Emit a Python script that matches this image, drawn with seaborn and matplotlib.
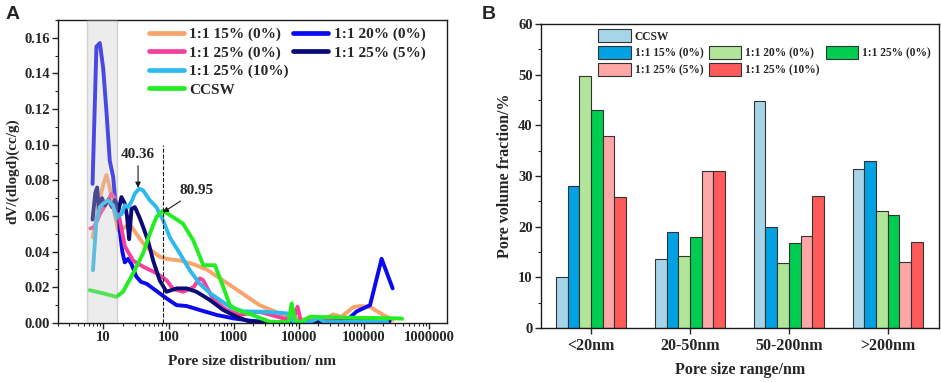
import numpy as np
import pandas as pd
import seaborn as sns
import matplotlib
matplotlib.use("Agg")
import matplotlib.pyplot as plt
from matplotlib.patches import Patch
from matplotlib.lines import Line2D
from matplotlib.ticker import LogLocator, MultipleLocator, NullFormatter

sns.set_theme(style="ticks")
plt.rcParams["font.family"] = ["Liberation Serif", "DejaVu Serif"]
plt.rcParams["font.weight"] = "bold"
plt.rcParams["axes.labelweight"] = "bold"

# ---- panel A data: pore size (nm) vs dV/dlogd ----
x_15 = [6.8, 7.5, 8.8, 10, 11.1, 12.5, 14.9, 16.8, 20, 24, 27, 32, 41, 48, 58, 74, 93, 150, 240, 385,
        990, 2500, 5800, 10500, 19000, 27000, 34000, 45000, 70000, 88000, 125000, 200000, 280000]
y_15 = [0.048, 0.055, 0.070, 0.078, 0.083, 0.076, 0.061, 0.052, 0.053, 0.055, 0.054, 0.050, 0.0446, 0.042, 0.040, 0.037,
        0.036, 0.035, 0.033, 0.030, 0.020, 0.010, 0.0045, 0.002, 0.0015, 0.003, 0.0048, 0.0035, 0.009, 0.0095,
        0.009, 0.0045, 0.0017]

x_20 = [6.8, 7.8, 8.8, 9.9, 11.1, 12.5, 14.1, 15.5, 16.5, 19.5, 21.3, 24, 27, 32, 38, 46, 65, 93, 133, 190,
        300, 550, 990, 1800, 3200, 5800, 10400, 19000, 22000, 25000, 43000, 61000, 78000, 125000, 188000, 278000]
y_20 = [0.078, 0.155, 0.157, 0.143, 0.119, 0.091, 0.082, 0.065, 0.062, 0.040, 0.034, 0.036, 0.033, 0.026, 0.023,
        0.022, 0.018, 0.0138, 0.010, 0.0095, 0.0073, 0.0045, 0.0026, 0.0013, 0.0006, 0.0004, 0.0005, 0.0005,
        0.0018, 0.0005, 0.0012, 0.003, 0.0065, 0.010, 0.036, 0.0194]

x_25_0 = [6.3, 7.3, 8.8, 11.1, 13.3, 14.9, 17.8, 21.3, 28.6, 41, 65, 93, 118, 168, 240, 303, 340, 490, 780,
          1250, 2500, 5800, 8300, 9600, 10800, 15000, 30000, 100000, 180000]
y_25_0 = [0.053, 0.054, 0.061, 0.067, 0.0725, 0.070, 0.058, 0.043, 0.035, 0.0315, 0.028, 0.024, 0.019, 0.0175,
          0.020, 0.025, 0.024, 0.013, 0.0073, 0.0045, 0.0063, 0.0026, 0.0020, 0.0091, 0.001, 0.001, 0.001,
          0.001, 0.001]

x_25_5 = [6.8, 7.5, 8.0, 8.5, 9.5, 10.5, 12, 13.5, 15, 17, 18.9, 21.3, 23, 24.8, 27, 30.3, 32.2, 36, 40.6,
          48.5, 58, 73, 93, 133, 189, 269, 431, 692, 1110, 1780, 3200, 10000, 50000, 250000]
y_25_5 = [0.058, 0.073, 0.076, 0.063, 0.070, 0.066, 0.069, 0.065, 0.069, 0.063, 0.0706, 0.067, 0.060, 0.047,
          0.064, 0.065, 0.063, 0.059, 0.054, 0.046, 0.035, 0.024, 0.0175, 0.0194, 0.0194, 0.0175, 0.0129,
          0.0073, 0.0035, 0.0007, 0.0003, 0.0005, 0.0008, 0.001]

x_25_10 = [6.9, 7.8, 8.8, 9.9, 11.8, 14, 15.8, 18.9, 21.3, 24, 27, 30.3, 35.4, 40.6, 51.6, 65, 82.5, 104.6,
           149, 212, 302, 431, 877, 1400, 2850, 6570, 8300, 15000, 20000, 25000, 230000]
y_25_10 = [0.0296, 0.0576, 0.065, 0.067, 0.0688, 0.066, 0.059, 0.061, 0.066, 0.065, 0.068, 0.0725, 0.0753,
           0.0744, 0.0688, 0.065, 0.0576, 0.048, 0.039, 0.0296, 0.022, 0.0168, 0.009, 0.0065, 0.0063, 0.0054,
           0.0007, 0.0005, 0.0028, 0.0005, 0.0007]

x_ccsw = [6.15, 9.9, 15.8, 20, 28.5, 40.6, 51.6, 65, 82.5, 117, 167, 239, 342, 516, 692, 877, 1110, 1780,
          3600, 7000, 7800, 8800, 10500, 14900, 25000, 55000, 320000, 390000]
y_ccsw = [0.0184, 0.0166, 0.0147, 0.0175, 0.0278, 0.039, 0.050, 0.0594, 0.063, 0.0594, 0.0557, 0.0464,
          0.0324, 0.0324, 0.0203, 0.010, 0.0075, 0.0050, 0.0007, 0.0005, 0.011, 0.0017, 0.0003, 0.0035, 0.0033,
          0.003, 0.0026, 0.0024]

a_series = [
    ("1:1 15% (0%)", x_15, y_15, "#F9A46A"),
    ("1:1 20% (0%)", x_20, y_20, "#0A0AF0"),
    ("1:1 25% (0%)", x_25_0, y_25_0, "#F5419B"),
    ("1:1 25% (5%)", x_25_5, y_25_5, "#0B0B78"),
    ("1:1 25% (10%)", x_25_10, y_25_10, "#2DB9F0"),
    ("CCSW", x_ccsw, y_ccsw, "#22EE22"),
]

# ---- panel B data: pore volume fraction (%) ----
ranges = ["<20nm", "20-50nm", "50-200nm", ">200nm"]
b_ccsw = [10.0, 13.6, 44.9, 31.4]
b_15 = [28.0, 19.0, 20.0, 33.0]
b_20 = [49.7, 14.3, 12.8, 23.2]
b_25_0 = [43.0, 18.0, 16.8, 22.3]
b_25_5 = [37.9, 31.0, 18.1, 13.1]
b_25_10 = [25.9, 31.1, 26.1, 17.0]
b_names = ["CCSW", "1:1 15% (0%)", "1:1 20% (0%)", "1:1 25% (0%)", "1:1 25% (5%)", "1:1 25% (10%)"]
b_colors = ["#A6D5EA", "#00A2E3", "#B0E59A", "#00CC50", "#FFA6A6", "#FF5A5A"]

fig = plt.figure(figsize=(9.41, 3.82), dpi=100)
axA = fig.add_axes([0.0616, 0.1545, 0.4134, 0.7935])
axB = fig.add_axes([0.575, 0.141, 0.423, 0.796])

# ---------- panel A ----------
for name, xs, ys, c in a_series:
    sns.lineplot(x=xs, y=ys, ax=axA, color=c, lw=2.8, sort=False, estimator=None, label=name)
axA.set_xscale("log")
axA.set_xlim(2, 1.9e6)
axA.set_ylim(0, 0.17)
axA.axvspan(5.6, 16.2, facecolor="#c8c8c8", alpha=0.33, edgecolor="#888888", lw=1.0, zorder=5)
axA.vlines(80.95, 0, 0.10, colors="k", linestyles="--", lw=0.8, zorder=6)

arrow = dict(arrowstyle="-|>", color="k", lw=0.8, mutation_scale=8, shrinkA=1, shrinkB=0)
axA.annotate("40.36", xy=(34, 0.0758), xytext=(34, 0.0945), ha="center", va="center",
             fontsize=11, fontweight="bold", arrowprops=arrow, zorder=7)
axA.annotate("80.95", xy=(82, 0.062), xytext=(272, 0.0743), ha="center", va="center",
             fontsize=11, fontweight="bold", arrowprops=arrow, zorder=7)

axA.set_xticks([10, 100, 1000, 10000, 100000, 1000000])
axA.set_xticklabels(["10", "100", "1000", "10000", "100000", "1000000"])
axA.xaxis.set_minor_locator(LogLocator(base=10, subs=np.arange(2, 10), numticks=20))
axA.xaxis.set_minor_formatter(NullFormatter())
axA.yaxis.set_major_locator(MultipleLocator(0.02))
axA.yaxis.set_minor_locator(MultipleLocator(0.01))
axA.set_yticklabels([f"{v:.2f}" for v in axA.get_yticks()])
axA.tick_params(which="major", direction="out", length=4, width=1, labelsize=10.5, pad=2)
axA.tick_params(which="minor", direction="out", length=2.2, width=0.8)
axA.set_xlabel("Pore size distribution/ nm", fontsize=11, labelpad=8)
axA.set_ylabel("dV/(dlogd)(cc/g)", fontsize=11, labelpad=3)
for s in axA.spines.values():
    s.set_linewidth(1.0)
    s.set_color("k")

# legend order so that column-major fill gives the reference rows
hA = {name: Line2D([0], [0], color=c, lw=3.4) for name, _, _, c in a_series}
blank = Line2D([0], [0], color="none")
axA.legend(handles=[hA["1:1 15% (0%)"], hA["1:1 25% (0%)"], hA["1:1 25% (10%)"], hA["CCSW"],
                    hA["1:1 20% (0%)"], hA["1:1 25% (5%)"], blank, blank],
           labels=["1:1 15% (0%)", "1:1 25% (0%)", "1:1 25% (10%)", "CCSW",
                   "1:1 20% (0%)", "1:1 25% (5%)", "", ""],
           ncol=2, loc="upper left", bbox_to_anchor=(0.225, 0.985), frameon=False,
           prop={"size": 11, "weight": "bold"}, handlelength=2.3, handletextpad=0.35,
           columnspacing=0.3, labelspacing=0.3, borderpad=0.2, borderaxespad=0)

fig.text(0.006, 0.985, "A", family="Liberation Sans", fontsize=14, fontweight="bold", va="top")
fig.text(0.512, 0.985, "B", family="Liberation Sans", fontsize=14, fontweight="bold", va="top")

# ---------- panel B ----------
vals = [b_ccsw, b_15, b_20, b_25_0, b_25_5, b_25_10]
df = pd.DataFrame({
    "range": ranges * len(b_names),
    "sample": [n for n in b_names for _ in ranges],
    "value": [v for row in vals for v in row],
})
sns.barplot(data=df, x="range", y="value", hue="sample", hue_order=b_names, order=ranges,
            palette=b_colors, width=0.71, edgecolor="#333333", linewidth=0.8, ax=axB,
            legend=False, saturation=1)
axB.set_xlim(-0.505, 3.52)
axB.set_ylim(0, 60)
axB.yaxis.set_major_locator(MultipleLocator(10))
axB.yaxis.set_minor_locator(MultipleLocator(5))
axB.tick_params(which="major", direction="out", length=4, width=1, labelsize=10.5, pad=2)
axB.tick_params(axis="x", labelsize=11.5, pad=3)
axB.tick_params(which="minor", direction="out", length=2.2, width=0.8)
axB.set_xlabel("Pore size range/nm", fontsize=11.5, labelpad=6)
axB.set_ylabel("Pore volume fraction/%", fontsize=11.5, labelpad=4)
for s in axB.spines.values():
    s.set_linewidth(1.0)
    s.set_color("k")

pB = [Patch(facecolor=c, edgecolor="#333333", lw=0.8) for c in b_colors]
pblank = Patch(facecolor="none", edgecolor="none")
axB.legend(handles=[pB[0], pB[1], pB[4], pblank, pB[2], pB[5], pblank, pB[3], pblank],
           labels=[b_names[0], b_names[1], b_names[4], "", b_names[2], b_names[5], "", b_names[3], ""],
           ncol=3, loc="upper left", bbox_to_anchor=(0.138, 0.99), frameon=False,
           prop={"size": 8.3, "weight": "bold"}, handlelength=2.8, handleheight=1.35,
           handletextpad=0.35, columnspacing=0.5, labelspacing=0.32, borderpad=0.2, borderaxespad=0)

fig.savefig("out.png", dpi=100)
